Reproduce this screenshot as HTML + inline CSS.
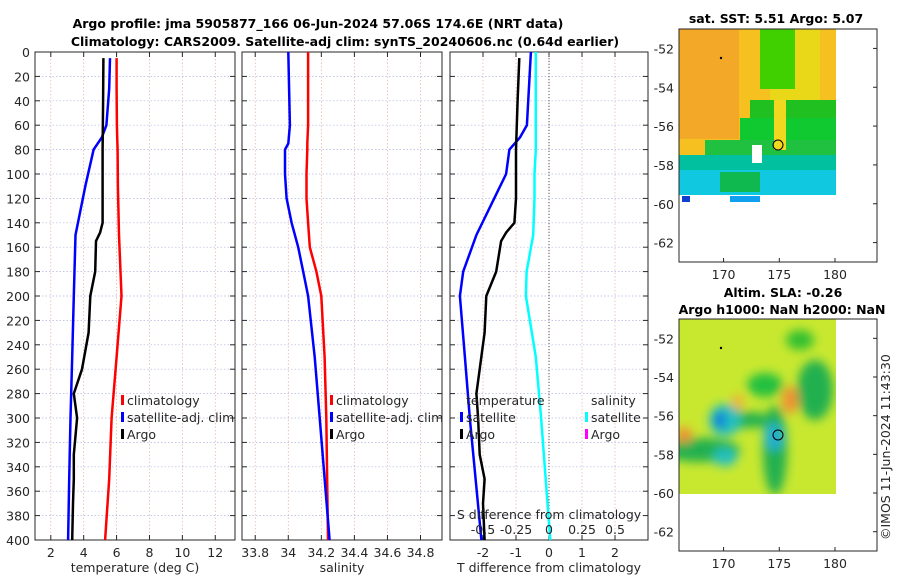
<!DOCTYPE html>
<html><head><meta charset="utf-8"><style>
body{margin:0;background:#fff;}
svg{display:block;font-family:"DejaVu Sans","Liberation Sans",sans-serif;}
.t{font-size:12.5px;fill:#262626;}
.b{font-weight:bold;fill:#000;font-size:12.5px;}
.g{stroke:#b0b4e0;stroke-width:0.7;stroke-dasharray:1.5 2;}
.go{stroke:#e0b0a0;stroke-width:0.7;stroke-dasharray:1.5 2;}
</style></head><body>
<svg id="s" width="900" height="580">
<defs>
<filter id="bl"><feGaussianBlur stdDeviation="5"/></filter>
<clipPath id="c2"><rect x="679" y="319" width="157" height="175"/></clipPath>
</defs>
<text class="b" x="318" y="28" text-anchor="middle">Argo profile: jma 5905877_166 06-Jun-2024 57.06S 174.6E (NRT data)</text>
<text class="b" x="345" y="46" text-anchor="middle">Climatology: CARS2009. Satellite-adj clim: synTS_20240606.nc (0.64d earlier)</text>
<g id="plots"></g>
<g>
<text class="b" x="776" y="23" text-anchor="middle">sat. SST: 5.51 Argo: 5.07</text>
<rect x="679" y="29" width="157" height="174" fill="#f5c020"/>
<rect x="679" y="29" width="60" height="110" fill="#f4a828"/>
<rect x="770" y="29" width="50" height="80" fill="#e8d818"/>
<rect x="760" y="29" width="35" height="60" fill="#40d000"/>
<rect x="750" y="100" width="86" height="60" fill="#20c020"/>
<rect x="740" y="118" width="96" height="50" fill="#10c830"/>
<rect x="705" y="140" width="131" height="40" fill="#20c040"/>
<rect x="679" y="155" width="157" height="48" fill="#00c0a0"/>
<rect x="679" y="170" width="157" height="25" fill="#10c8e0"/>
<rect x="720" y="172" width="40" height="20" fill="#10b850"/>
<rect x="752" y="145" width="10" height="18" fill="#fff"/>
<rect x="774" y="100" width="12" height="50" fill="#f0d820"/>
<rect x="679" y="195" width="157" height="8" fill="#fff"/>
<rect x="682" y="196" width="8" height="6" fill="#1040d0"/>
<rect x="730" y="196" width="30" height="6" fill="#10a0f0"/>
<rect x="679" y="29" width="198" height="233" fill="none" stroke="#262626" stroke-width="1"/>
<circle cx="778" cy="145" r="5" fill="none" stroke="#000"/>
<circle cx="721" cy="58" r="1.2" fill="#000"/>
<g id="m1ax"></g>
</g>
<g>
<text class="b" x="783" y="297" text-anchor="middle">Altim. SLA: -0.26</text>
<text class="b" x="782" y="314" text-anchor="middle">Argo h1000: NaN h2000: NaN</text>
<g clip-path="url(#c2)">
<rect x="679" y="319" width="157" height="175" fill="#c8e830"/>
<g filter="url(#bl)">
<ellipse cx="765" cy="385" rx="18" ry="12" fill="#20c040"/>
<ellipse cx="815" cy="390" rx="18" ry="30" fill="#20b050"/>
<ellipse cx="700" cy="450" rx="40" ry="12" fill="#20b050"/>
<ellipse cx="745" cy="420" rx="30" ry="8" fill="#20b050"/>
<ellipse cx="775" cy="450" rx="12" ry="45" fill="#20b050"/>
<ellipse cx="725" cy="420" rx="16" ry="16" fill="#20c0c0"/>
<ellipse cx="720" cy="420" rx="5" ry="8" fill="#1060e0"/>
<ellipse cx="725" cy="457" rx="12" ry="9" fill="#20c0c0"/>
<ellipse cx="774" cy="437" rx="10" ry="14" fill="#20b0d0"/>
<ellipse cx="790" cy="400" rx="8" ry="14" fill="#f09030"/>
<ellipse cx="684" cy="435" rx="8" ry="8" fill="#f09030"/>
<ellipse cx="738" cy="402" rx="6" ry="8" fill="#f0b030"/>
<ellipse cx="800" cy="340" rx="14" ry="10" fill="#30c030"/>
</g>
</g>
<rect x="679" y="319" width="198" height="232" fill="none" stroke="#262626" stroke-width="1"/>
<circle cx="778" cy="435" r="5" fill="none" stroke="#000"/>
<circle cx="721" cy="348" r="1.2" fill="#000"/>
<g id="m2ax"></g>
</g>
<text class="t" transform="translate(890,540) rotate(-90)">©IMOS 11-Jun-2024 11:43:30</text>
</svg>
<script>
const depthTicks=[0,20,40,60,80,100,120,140,160,180,200,220,240,260,280,300,320,340,360,380,400];
const tTicks=[2,4,6,8,10,12];
const sTicks=[33.8,34,34.2,34.4,34.6,34.8];
const dTicks=[-2,-1,0,1,2];
const sdTicks=[-0.5,-0.25,0,0.25,0.5];
const tDepth=[5,30,60,70,80,110,150,200,250,300,350,400];
const tClim=[6.0,6.0,6.02,6.04,6.06,6.08,6.15,6.3,6.0,5.7,5.55,5.3];
const tSat=[5.6,5.55,5.38,5.1,4.6,4.1,3.5,3.4,3.3,3.2,3.12,3.05];
const argoDepth=[5,40,80,120,140,148,155,180,200,230,260,280,300,330,350,370,400];
const tArgo=[5.2,5.18,5.15,5.15,5.15,5.0,4.75,4.7,4.4,4.3,3.9,3.4,3.6,3.4,3.4,3.35,3.3];
const dTArgo=[-0.9,-0.95,-1.0,-1.0,-1.05,-1.3,-1.45,-1.6,-1.9,-1.95,-2.1,-2.2,-2.15,-2.1,-1.95,-2.0,-1.95];
const sDepth=[0,60,75,80,100,120,140,160,180,200,250,300,400];
const sClim=[34.12,34.12,34.115,34.115,34.11,34.11,34.12,34.13,34.17,34.2,34.22,34.23,34.24];
const sSat=[34.0,34.01,34.0,33.98,33.98,33.99,34.02,34.06,34.09,34.12,34.16,34.19,34.25];
const dDepth=[0,60,70,80,100,120,150,180,200,250,300,400];
const dTSat=[-0.55,-0.67,-0.88,-1.2,-1.3,-1.66,-2.2,-2.6,-2.7,-2.55,-2.4,-2.05];
const dSSat=[-0.1,-0.1,-0.1,-0.1,-0.11,-0.11,-0.12,-0.17,-0.175,-0.1,-0.06,0.01];
const lonTicks=[170,175,180];
const latTicks=[-52,-54,-56,-58,-60,-62];

const NS='http://www.w3.org/2000/svg';
const root=document.getElementById('plots');
function mk(tag,at,par){const e=document.createElementNS(NS,tag);for(const k in at)e.setAttribute(k,at[k]);(par||root).appendChild(e);return e;}
const Y0=52,Y1=540;
const yD=d=>Y0+(d/400)*(Y1-Y0);
function panel(name,x0,x1,vmin,vmax,ticks,xlabel,showY){
  const g=mk('g',{});
  
  
  const xf=v=>x0+(v-vmin)/(vmax-vmin)*(x1-x0);
  depthTicks.forEach(d=>{const l=mk('line',{x1:x0,x2:x1,y1:yD(d),y2:yD(d),class:'g'},g);
    
    
    mk('line',{x1:x0,x2:x0+5,y1:yD(d),y2:yD(d),stroke:'#262626'},g);mk('line',{x1:x1,x2:x1-5,y1:yD(d),y2:yD(d),stroke:'#262626'},g);
    if(showY){const t=mk('text',{x:x0-5,y:yD(d)+5,'text-anchor':'end',class:'t'},g);t.textContent=d;
      
      }});
  ticks.forEach(v=>{const l=mk('line',{x1:xf(v),x2:xf(v),y1:Y0,y2:Y1,class:'go'},g);
    
    
    mk('line',{x1:xf(v),x2:xf(v),y1:Y1,y2:Y1-5,stroke:'#262626'},g);mk('line',{x1:xf(v),x2:xf(v),y1:Y0,y2:Y0+5,stroke:'#262626'},g);
    const t=mk('text',{x:xf(v),y:557,'text-anchor':'middle',class:'t'},g);t.textContent=v;
    
    });
  const r=mk('rect',{x:x0,y:Y0,width:x1-x0,height:Y1-Y0,fill:'none',stroke:'#262626'},g);
  
  
  const xl=mk('text',{x:(x0+x1)/2,y:572,'text-anchor':'middle',class:'t'},g);xl.textContent=xlabel;
  
  
  return {g,xf};
}
function line(p,ds,vs,col,name){
  const pts=ds.map((d,i)=>p.xf(vs[i]).toFixed(1)+','+yD(d).toFixed(1)).join(' ');
  const l=mk('polyline',{points:pts,fill:'none',stroke:col,'stroke-width':2.5,'stroke-linejoin':'round'},p.g);
  
  
}
function legend(g,x,y,items){
  items.forEach((it,i)=>{const yy=y+i*17;
    if(it[1])mk('rect',{x:x,y:yy-10,width:3,height:10,fill:it[1]},g);
    const t=mk('text',{x:x+6,y:yy,class:'t'},g);t.textContent=it[0];
    
    });
}
const p1=panel('temperature-panel',35,235,1.04,13.2,tTicks,'temperature (deg C)',true);
line(p1,tDepth,tClim,'#ff0000','climatology-temperature-line');
line(p1,tDepth,tSat,'#0000ff','satellite-temperature-line');
line(p1,argoDepth,tArgo,'#000000','argo-temperature-line');
legend(p1.g,121,405,[['climatology','#f00'],['satellite-adj. clim','#00f'],['Argo','#000']]);
const p2=panel('salinity-panel',242,442,33.72,34.93,sTicks,'salinity',false);
line(p2,sDepth,sClim,'#ff0000','climatology-salinity-line');
line(p2,sDepth,sSat,'#0000ff','satellite-salinity-line');
legend(p2.g,330,405,[['climatology','#f00'],['satellite-adj. clim','#00f'],['Argo','#000']]);
const p3=panel('difference-panel',450,648,-3.0,3.0,dTicks,'T difference from climatology',false);
const dz=mk('line',{x1:p3.xf(0),x2:p3.xf(0),y1:Y0,y2:Y1,stroke:'#555','stroke-dasharray':'1 2'},p3.g);


line(p3,dDepth,dTSat,'#0000ff','temperature-diff-satellite-line');
line(p3,argoDepth,dTArgo,'#000000','temperature-diff-argo-line');
line(p3,dDepth,dSSat.map(v=>v*4),'#00ffff','salinity-diff-satellite-line');
legend(p3.g,460,405,[['temperature',null],['satellite','#00f'],['Argo','#000']]);
legend(p3.g,585,405,[['salinity',null],['satellite','#0ff'],['Argo','#f0f']]);
const st=mk('text',{x:549,y:519,'text-anchor':'middle',class:'t'},p3.g);st.textContent='S difference from climatology';


sdTicks.forEach(v=>{const t=mk('text',{x:p3.xf(v*4),y:534,'text-anchor':'middle',class:'t'},p3.g);t.textContent=v;
  
  });
function mapAx(id,top,bot){
  const g=document.getElementById(id);
  const lx=v=>679+(v-166)*(835-679)/14;
  const ly=v=>top+(-51-v)*(bot-top)/12;
  lonTicks.forEach(v=>{mk('line',{x1:lx(v),x2:lx(v),y1:bot,y2:bot-4,stroke:'#262626'},g);
    const t=mk('text',{x:lx(v),y:bot+17,'text-anchor':'middle',class:'t'},g);t.textContent=v;
    
    });
  latTicks.forEach(v=>{mk('line',{x1:877,x2:873,y1:ly(v),y2:ly(v),stroke:'#262626'},g);
    const t=mk('text',{x:674,y:ly(v)+5,'text-anchor':'end',class:'t'},g);t.textContent=v;
    
    });
}
mapAx('m1ax',29,262);
mapAx('m2ax',319,551);
</script>
</body></html>
